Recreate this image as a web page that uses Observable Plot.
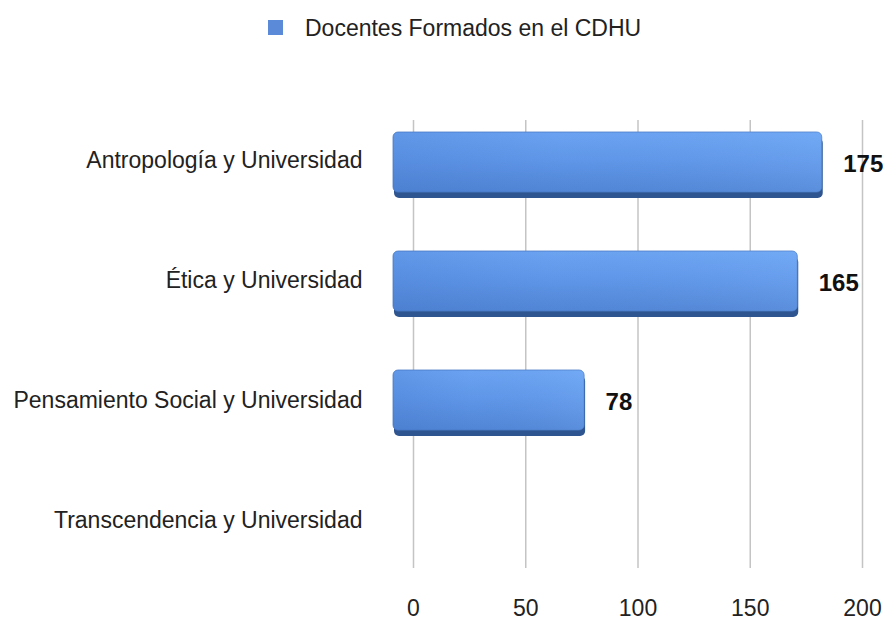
<!DOCTYPE html>
<html>
<head>
<meta charset="utf-8">
<script src="https://cdn.jsdelivr.net/npm/d3@7"></script>
<script src="https://cdn.jsdelivr.net/npm/@observablehq/plot@0.6"></script>
<style>
  html, body { margin: 0; padding: 0; background: #fff; }
  #wrap { position: relative; width: 889px; height: 623px; font-family: "Liberation Sans", Arial, Helvetica, sans-serif; color: #222; overflow: hidden; }
  #legend { position: absolute; left: 0; top: 0; width: 889px; height: 60px; }
  #legend .sw { position: absolute; left: 268px; top: 20px; width: 15px; height: 15px; background: #5b8bd8; }
  #legend .lab { position: absolute; left: 305px; top: 14px; font-size: 23px; line-height: 28px; color: #222; white-space: nowrap; }
  .layer { position: absolute; left: 0; top: 60px; }
</style>
</head>
<body>
<div id="wrap">
  <div id="legend"><div class="sw"></div><div class="lab"></div></div>
  <div id="back" class="layer"></div>
  <div id="front" class="layer"></div>
</div>
<script>
const seriesName = "Docentes Formados en el CDHU";
const categories = [
  "Antropología y Universidad",
  "Ética y Universidad",
  "Pensamiento Social y Universidad",
  "Transcendencia y Universidad"
];
const values = [175, 165, 78, 0];
const xTicks = [0, 50, 100, 150, 200];

const data = categories.map((c, i) => ({category: c, value: values[i]}));
document.querySelector("#legend .lab").textContent = seriesName;

const W = 889, H = 563;
const font = '"Liberation Sans", Arial, Helvetica, sans-serif';

// Back plane: grid, tick labels, category labels
const back = Plot.plot({
  width: W, height: H,
  marginLeft: 413, marginRight: 27, marginTop: 40, marginBottom: 43,
  style: {background: "transparent", fontFamily: font, fontSize: "23px", color: "#222"},
  x: {domain: [0, 200]},
  y: {domain: categories},
  marks: [
    Plot.ruleX(xTicks, {stroke: "#c4c4c4", strokeWidth: 1.5, insetTop: 20, insetBottom: 12}),
    Plot.axisX({ticks: xTicks, tickSize: 0, tickPadding: 19, label: null, fontSize: 23, fill: "#222"}),
    Plot.axisY({tickSize: 0, tickPadding: 51, label: null, fontSize: 23, fill: "#222"})
  ]
});
document.getElementById("back").appendChild(back);

// Front plane: bars (perspective-scaled) and value labels
const shown = data.filter(d => d.value > 0);
const front = Plot.plot({
  width: W, height: H,
  marginLeft: 393, marginRight: 6, marginTop: 42, marginBottom: 45,
  style: {background: "transparent", fontFamily: font},
  x: {domain: [0, 200], axis: null},
  y: {domain: categories, axis: null, paddingInner: 0.5, paddingOuter: 0.25},
  marks: [
    Plot.barX(shown, {x: "value", y: "category", fill: "#2f5590", dy: 6, dx: 1, rx: 5}),
    Plot.barX(shown, {x: "value", y: "category", fill: "url(#barGrad)", rx: 5, stroke: "#4a7cc8", strokeWidth: 0.8}),
    Plot.barX(shown, {x: "value", y: "category", fill: "url(#barShade)", rx: 5}),
    Plot.text(shown, {x: "value", y: "category", text: d => String(d.value), dx: 21, dy: 2, textAnchor: "start", fontSize: 24, fontWeight: "bold", fill: "#111"})
  ]
});
const defs = d3.select(front).insert("defs", ":first-child");
const g = defs.append("linearGradient").attr("id", "barGrad").attr("x1", 0).attr("y1", 0).attr("x2", 0).attr("y2", 1);
g.append("stop").attr("offset", "0%").attr("stop-color", "#6ea6f4");
g.append("stop").attr("offset", "45%").attr("stop-color", "#6299ea");
g.append("stop").attr("offset", "100%").attr("stop-color", "#5286d6");
const s = defs.append("linearGradient").attr("id", "barShade").attr("x1", 0).attr("y1", 0).attr("x2", 1).attr("y2", 0);
s.append("stop").attr("offset", "0%").attr("stop-color", "#3a6cc0").attr("stop-opacity", 0.25);
s.append("stop").attr("offset", "40%").attr("stop-color", "#3a6cc0").attr("stop-opacity", 0.05);
s.append("stop").attr("offset", "100%").attr("stop-color", "#8cc0ff").attr("stop-opacity", 0.15);
document.getElementById("front").appendChild(front);
</script>
</body>
</html>
